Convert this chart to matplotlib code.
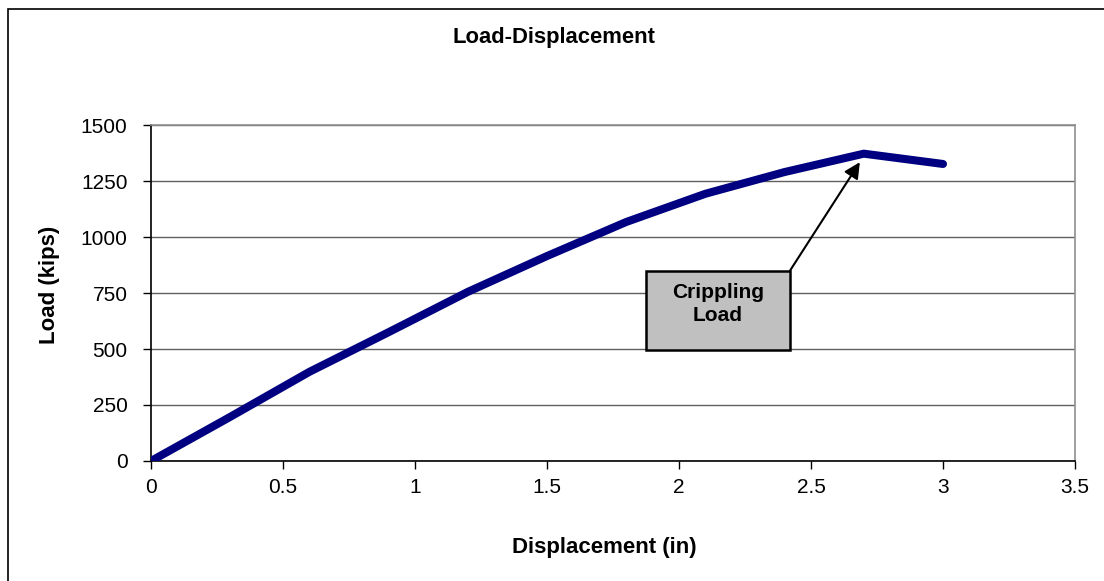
import matplotlib
matplotlib.use("Agg")
import matplotlib.pyplot as plt
from matplotlib.patches import Rectangle

plt.rcParams['font.family'] = ['Liberation Sans', 'DejaVu Sans']

displacement = [0.0, 0.3, 0.6, 0.9, 1.2, 1.5, 1.8, 2.1, 2.4, 2.7, 3.0]
load = [0, 197, 398, 575, 755, 915, 1067, 1193, 1290, 1372, 1326]
x_ticks = [0, 0.5, 1, 1.5, 2, 2.5, 3, 3.5]
x_tick_labels = ['0', '0.5', '1', '1.5', '2', '2.5', '3', '3.5']
y_ticks = [0, 250, 500, 750, 1000, 1250, 1500]
title = 'Load-Displacement'
xlabel = 'Displacement (in)'
ylabel = 'Load (kips)'
annotation_text = 'Crippling\nLoad'
peak_x, peak_y = 2.7, 1372

W, H = 1104, 581
fig = plt.figure(figsize=(W / 100, H / 100), dpi=100)
ax = fig.add_axes([151 / W, 1 - 461 / H, (1075 - 151) / W, (461 - 125) / H])

ax.plot(displacement, load, color='#000080', lw=5.8, solid_capstyle='round',
        solid_joinstyle='round', zorder=3)

ax.set_xlim(0, 3.5)
ax.set_ylim(0, 1500)
ax.set_xticks(x_ticks)
ax.set_xticklabels(x_tick_labels)
ax.set_yticks(y_ticks)
ax.yaxis.grid(True, color='#606060', lw=1)
ax.set_axisbelow(True)
ax.tick_params(axis='both', direction='out', length=6, width=1, color='black',
               labelsize=15, pad=6)
ax.tick_params(axis='y', pad=11)
for s in ['left', 'bottom']:
    ax.spines[s].set_color('black')
    ax.spines[s].set_linewidth(1.2)
for s in ['top', 'right']:
    ax.spines[s].set_color('#909090')
    ax.spines[s].set_linewidth(1.2)

fig.text(554.5 / W, 1 - 38 / H, title, ha='center', va='center',
         fontsize=15.8, fontweight='bold')
fig.text(604.6 / W, 1 - 548 / H, xlabel, ha='center', va='center',
         fontsize=16, fontweight='bold')
fig.text(50 / W, 1 - 285 / H, ylabel, ha='center', va='center',
         rotation=90, fontsize=16, fontweight='bold')

# annotation box
bx0, bx1 = 1.874, 2.420
by0, by1 = 495, 849
ax.add_patch(Rectangle((bx0, by0), bx1 - bx0, by1 - by0, facecolor='#C0C0C0',
                       edgecolor='black', lw=1.8, zorder=4))
ax.text((bx0 + bx1) / 2, 702, annotation_text, ha='center',
        va='center', fontsize=15, fontweight='bold', zorder=5, linespacing=1.3)
ax.annotate('', xy=(peak_x - 0.015, peak_y - 38), xytext=(bx1, by1),
            arrowprops=dict(arrowstyle='-|>', color='black', lw=1.5,
                            mutation_scale=24, shrinkA=0, shrinkB=0), zorder=5)

# outer chart border (left and top visible)
fig.patches.append(Rectangle((7.5 / W, -0.1), 1.2, 1.1 - 9.5 / H,
                             transform=fig.transFigure, fill=False,
                             edgecolor='black', lw=1.2))

fig.savefig('out.png', dpi=100)
